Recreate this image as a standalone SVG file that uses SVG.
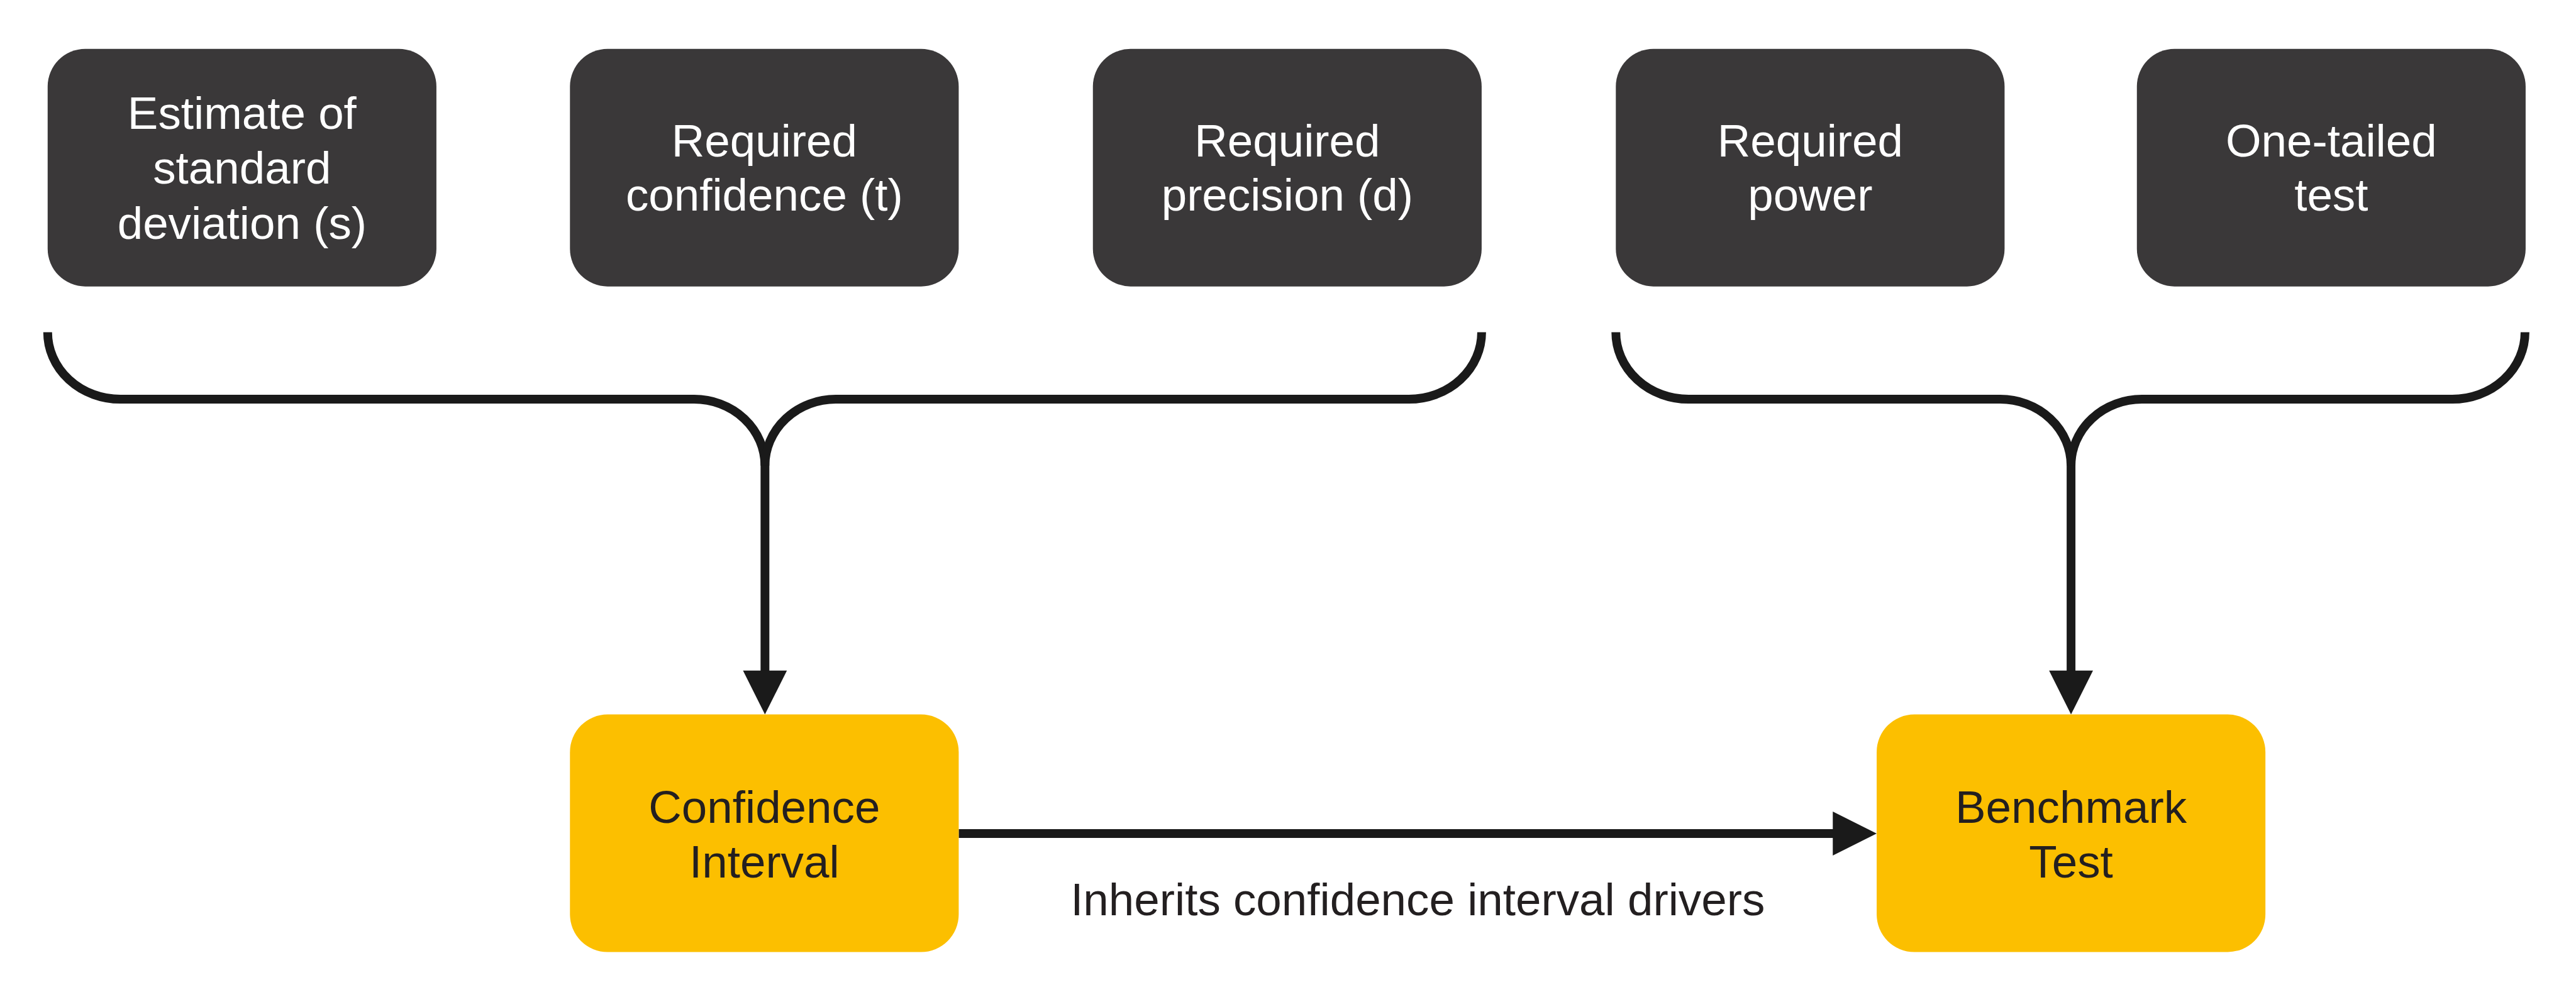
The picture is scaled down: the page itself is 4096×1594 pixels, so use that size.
<svg xmlns="http://www.w3.org/2000/svg" width="4096" height="1594" viewBox="0 0 4096 1594">
<style>
.dk{fill:#3a3839}
.yl{fill:#fcbf00}
.tw{font-family:"Liberation Sans",Arial,sans-serif;font-size:73px;fill:#ffffff;text-anchor:middle}
.tb{font-family:"Liberation Sans",Arial,sans-serif;font-size:73px;fill:#231f20;text-anchor:middle}
.ln{fill:none;stroke:#1a1a1a;stroke-width:14}
.ah{fill:#1a1a1a}
</style>
<rect width="4096" height="1594" fill="#ffffff"/>
<g transform="scale(0.997)">
<g id="connectors">
<path class="ln" d="M76,530 A116,107 0 0 0 192,637 H1107 A113,106 0 0 1 1220,743 V1072"/>
<path class="ln" d="M2363,530 A116,107 0 0 1 2247,637 H1333 A113,106 0 0 0 1220,743"/>
<polygon class="ah" points="1185,1070 1255,1070 1220,1140"/>
<path class="ln" d="M2577,530 A116,107 0 0 0 2693,637 H3190 A113,106 0 0 1 3303,743 V1072"/>
<path class="ln" d="M4027,530 A116,107 0 0 1 3911,637 H3416 A113,106 0 0 0 3303,743"/>
<polygon class="ah" points="3268,1070 3338,1070 3303,1140"/>
<path class="ln" d="M1529,1330 H2925"/>
<polygon class="ah" points="2923,1295 2923,1365 2993,1330"/>
<text class="tb" x="2261" y="1460">Inherits confidence interval drivers</text>
</g>
<g id="node-sd">
<rect class="dk" x="76" y="78" width="620" height="379" rx="60" ry="60"/>
<text class="tw" x="386" y="206">Estimate of</text>
<text class="tw" x="386" y="293">standard</text>
<text class="tw" x="386" y="381">deviation (s)</text>
</g>
<g id="node-conf">
<rect class="dk" x="909" y="78" width="620" height="379" rx="60" ry="60"/>
<text class="tw" x="1219" y="250">Required</text>
<text class="tw" x="1219" y="336">confidence (t)</text>
</g>
<g id="node-prec">
<rect class="dk" x="1743" y="78" width="620" height="379" rx="60" ry="60"/>
<text class="tw" x="2053" y="250">Required</text>
<text class="tw" x="2053" y="336">precision (d)</text>
</g>
<g id="node-power">
<rect class="dk" x="2577" y="78" width="620" height="379" rx="60" ry="60"/>
<text class="tw" x="2887" y="250">Required</text>
<text class="tw" x="2887" y="336">power</text>
</g>
<g id="node-onetail">
<rect class="dk" x="3408" y="78" width="620" height="379" rx="60" ry="60"/>
<text class="tw" x="3718" y="250">One-tailed</text>
<text class="tw" x="3718" y="336">test</text>
</g>
<g id="node-ci">
<rect class="yl" x="909" y="1140" width="620" height="379" rx="60" ry="60"/>
<text class="tb" x="1219" y="1313">Confidence</text>
<text class="tb" x="1219" y="1400">Interval</text>
</g>
<g id="node-bench">
<rect class="yl" x="2993" y="1140" width="620" height="379" rx="60" ry="60"/>
<text class="tb" x="3303" y="1313">Benchmark</text>
<text class="tb" x="3303" y="1400">Test</text>
</g>
</g>
</svg>
